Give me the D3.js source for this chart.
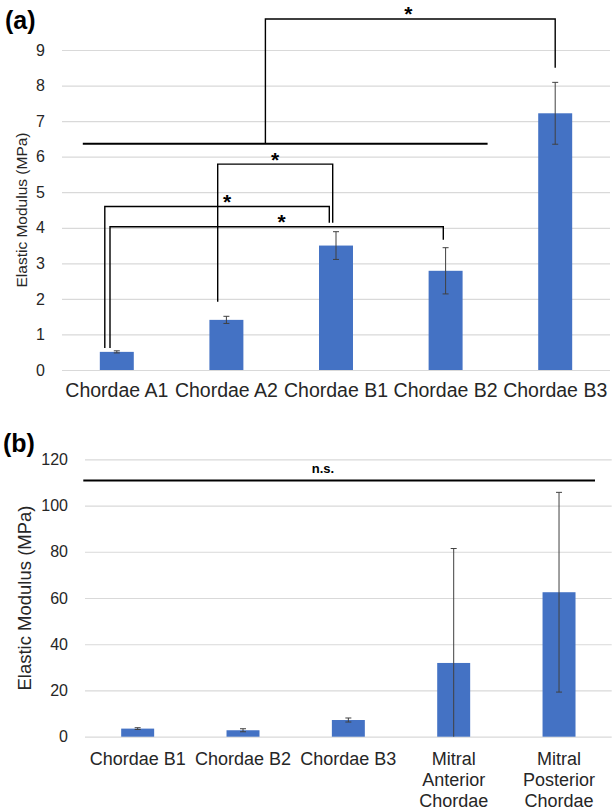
<!DOCTYPE html>
<html>
<head>
<meta charset="utf-8">
<script src="https://cdn.jsdelivr.net/npm/d3@7"></script>
<style>
  body { margin: 0; background: #fff; }
  text { font-family: "Liberation Sans", Arial, sans-serif; }
</style>
</head>
<body>
<script>
// ---- data, panel (a) ----
const catsA = ["Chordae A1", "Chordae A2", "Chordae B1", "Chordae B2", "Chordae B3"]
const meanA = [0.51, 1.41, 3.50, 2.79, 7.22]
const errA = [0.03, 0.10, 0.39, 0.65, 0.87]
const ticksA = [0, 1, 2, 3, 4, 5, 6, 7, 8, 9]

// significance brackets (values in MPa)
const bracketFrom = ["Chordae A1", "Chordae A1", "Chordae A2"]
const bracketTo = ["Chordae B1", "Chordae B2", "Chordae B1"]
const bracketFromY = [0.62, 0.62, 1.92]
const bracketTopY = [4.60, 4.03, 5.79]
const bracketToY = [4.14, 3.66, 4.14]
const groupLineA = 6.36     // line spanning A1..B2
const groupTopA = 9.87      // bracket from the group line to B3
const groupToB3 = 8.50

// ---- data, panel (b) ----
const catsB = ["Chordae B1", "Chordae B2", "Chordae B3", "Mitral Anterior Chordae", "Mitral Posterior Chordae"]
const labelsB = [["Chordae B1"], ["Chordae B2"], ["Chordae B3"], ["Mitral", "Anterior", "Chordae"], ["Mitral", "Posterior", "Chordae"]]
const meanB = [3.50, 2.79, 7.22, 31.9, 62.5]
const errB = [0.39, 0.65, 0.87, 49.5, 43.2]
const ticksB = [0, 20, 40, 60, 80, 100, 120]
const nsLineB = 110.8

const width = 615
const height = 812
const barColor = "#4472c4"
const gridColor = "#d9d9d9"
const errColor = "#404040"
const textColor = "#262626"

var svg = d3.select("body")
    .append("svg")
    .attr("width", width)
    .attr("height", height)

function drawPanel(opts) {
    var x = d3.scaleBand()
        .domain(opts.cats)
        .range([opts.left, opts.right])
        .paddingInner(opts.pad)
        .paddingOuter(opts.pad / 2)

    var y = d3.scaleLinear()
        .domain([0, d3.max(opts.ticks)])
        .range([opts.bottom, opts.top])

    // gridlines + tick labels
    var ejeY = d3.axisLeft(y)
        .tickValues(opts.ticks)
        .tickSize(-(opts.right - opts.left))
        .tickPadding(17)
        .tickFormat(d3.format("d"))
    var gy = svg.append("g")
        .attr("transform", "translate(" + opts.left + ",0)")
        .call(ejeY)
    gy.select(".domain").remove()
    gy.selectAll(".tick line").attr("stroke", gridColor).attr("stroke-width", 1.2)
    gy.selectAll(".tick text")
        .attr("fill", textColor)
        .style("font-size", "16px")
        .style("font-family", "'Liberation Sans', Arial, sans-serif")

    // bars
    svg.append("g").selectAll("rect")
        .data(opts.cats)
        .join("rect")
        .attr("x", d => x(d))
        .attr("width", x.bandwidth())
        .attr("y", (d, i) => y(opts.mean[i]))
        .attr("height", (d, i) => y(0) - y(opts.mean[i]))
        .attr("fill", barColor)

    // error bars
    var eb = svg.append("g").attr("stroke", errColor).attr("stroke-width", 1)
    opts.cats.forEach(function (c, i) {
        var cx = x(c) + x.bandwidth() / 2
        var hi = y(opts.mean[i] + opts.err[i])
        var lo = y(Math.max(0, opts.mean[i] - opts.err[i]))
        eb.append("line").attr("x1", cx).attr("x2", cx).attr("y1", hi).attr("y2", lo)
        eb.append("line").attr("x1", cx - 3).attr("x2", cx + 3).attr("y1", hi).attr("y2", hi)
        if (opts.mean[i] - opts.err[i] > 0) {
            eb.append("line").attr("x1", cx - 3).attr("x2", cx + 3).attr("y1", lo).attr("y2", lo)
        }
    })

    // category labels
    var ejeX = d3.axisBottom(x).tickSize(0).tickPadding(0)
    var gx = svg.append("g")
        .attr("transform", "translate(0," + opts.bottom + ")")
        .call(ejeX)
    gx.select(".domain").remove()
    gx.selectAll(".tick text").each(function (d, i) {
        var t = d3.select(this)
        var lines = opts.labels ? opts.labels[i] : [d]
        t.text(null)
            .attr("y", 0)
            .attr("dy", null)
            .attr("fill", textColor)
            .style("font-size", opts.labelSize + "px")
            .style("font-family", "'Liberation Sans', Arial, sans-serif")
        lines.forEach(function (line, k) {
            t.append("tspan")
                .attr("x", 0)
                .attr("y", opts.labelY + k * opts.lineGap)
                .text(line)
        })
    })

    // y-axis title
    svg.append("text")
        .attr("transform", "translate(" + opts.titleX + "," + ((opts.top + opts.bottom) / 2) + ") rotate(-90)")
        .attr("text-anchor", "middle")
        .attr("dy", "0.35em")
        .attr("fill", textColor)
        .style("font-size", opts.titleSize + "px")
        .text("Elastic Modulus (MPa)")

    // panel letter
    svg.append("text")
        .attr("x", opts.letterX)
        .attr("y", opts.letterY)
        .attr("fill", "#000")
        .style("font-size", opts.letterSize + "px")
        .style("font-weight", "bold")
        .text(opts.letter)

    return { x: x, y: y }
}

// ---------- panel (a) ----------
var a = drawPanel({
    cats: catsA, mean: meanA, err: errA, ticks: ticksA,
    left: 62, right: 610, top: 50, bottom: 370, pad: 0.69,
    labelY: 27, lineGap: 21, labelSize: 19.5,
    titleX: 22, titleSize: 15.5,
    letter: "(a)", letterX: 5, letterY: 29, letterSize: 25
})

var cA = d => a.x(d) + a.x.bandwidth() / 2
var sig = svg.append("g").attr("stroke", "#000").attr("fill", "none")

function star(px, py) {
    svg.append("text")
        .attr("x", px)
        .attr("y", py + 11)
        .attr("text-anchor", "middle")
        .attr("fill", "#000")
        .style("font-size", "21px")
        .style("font-weight", "bold")
        .text("*")
}

// pairwise brackets
var legOffsetFrom = [-12, -6.8, -8.7]
var legOffsetTo = [-6.7, -2.3, -3.3]
var starShift = [10, 5, 0]
bracketFrom.forEach(function (f, i) {
    var x1 = cA(f) + legOffsetFrom[i]
    var x2 = cA(bracketTo[i]) + legOffsetTo[i]
    var yt = a.y(bracketTopY[i])
    sig.append("path")
        .attr("stroke-width", 1.4)
        .attr("d", d3.line()([[x1, a.y(bracketFromY[i])], [x1, yt], [x2, yt], [x2, a.y(bracketToY[i])]]))
    star((x1 + x2) / 2 + starShift[i], yt - 8.5)
})

// group line A1..B2 and bracket to B3
var gx1 = cA("Chordae A1") - 34
var gx2 = cA("Chordae B2") + 42
sig.append("line")
    .attr("stroke-width", 2)
    .attr("x1", gx1).attr("x2", gx2)
    .attr("y1", a.y(groupLineA)).attr("y2", a.y(groupLineA))
var gStem = cA("Chordae A2") + 39
var gEnd = cA("Chordae B3")
sig.append("path")
    .attr("stroke-width", 1.4)
    .attr("d", d3.line()([[gStem, a.y(groupLineA)], [gStem, a.y(groupTopA)], [gEnd, a.y(groupTopA)], [gEnd, a.y(groupToB3)]]))
star((gStem + gEnd) / 2 - 2, a.y(groupTopA) - 9)

// ---------- panel (b) ----------
var b = drawPanel({
    cats: catsB, labels: labelsB, mean: meanB, err: errB, ticks: ticksB,
    left: 85, right: 611.7, top: 459.3, bottom: 736.7, pad: 0.687,
    labelY: 28.5, lineGap: 21, labelSize: 18,
    titleX: 25, titleSize: 18.5,
    letter: "(b)", letterX: 3, letterY: 452, letterSize: 25
})

svg.append("line")
    .attr("stroke", "#000")
    .attr("stroke-width", 2)
    .attr("x1", b.x.range()[0] - 1.7)
    .attr("x2", b.x.range()[1] - 16.7)
    .attr("y1", b.y(nsLineB)).attr("y2", b.y(nsLineB))

svg.append("text")
    .attr("x", 323)
    .attr("y", b.y(nsLineB) - 8)
    .attr("text-anchor", "middle")
    .attr("fill", "#000")
    .style("font-size", "13px")
    .style("font-weight", "bold")
    .text("n.s.")
</script>
</body>
</html>
